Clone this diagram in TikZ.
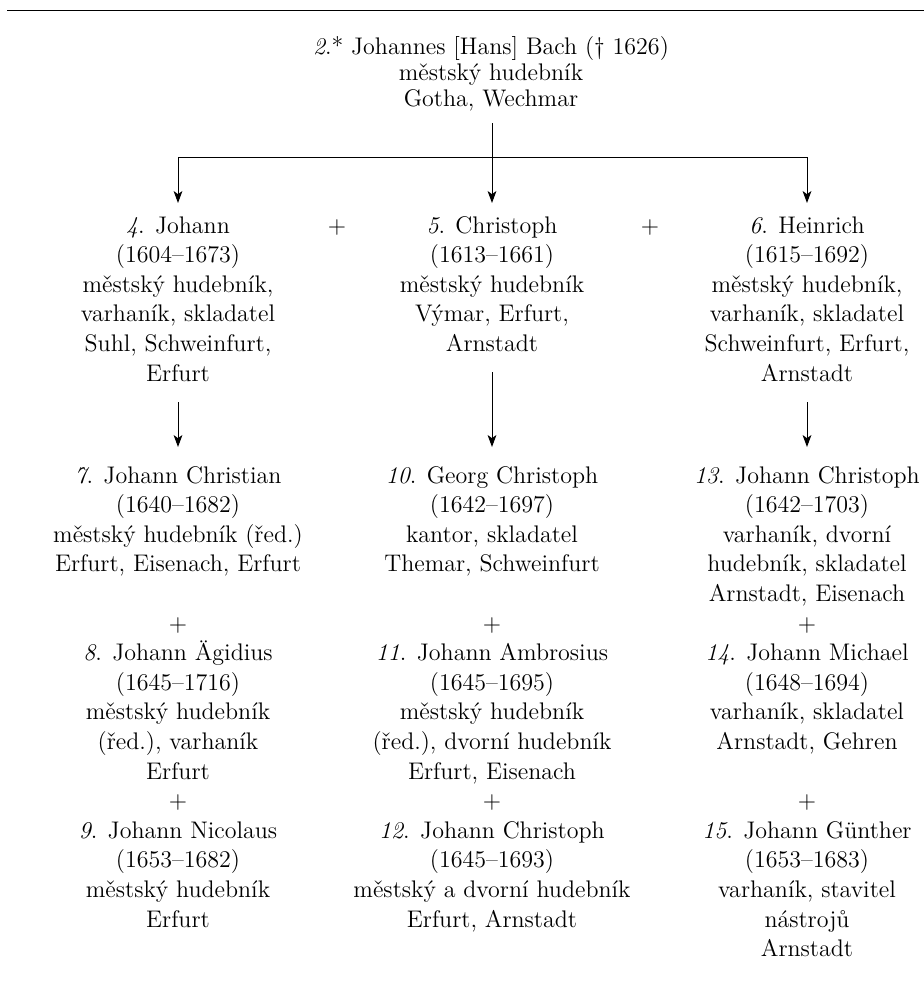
\documentclass[tikz,border=0pt]{standalone}
\usepackage{fontspec}
\usetikzlibrary{arrows.meta}
\newcommand\topstrut{\vrule height 12pt depth 0pt width 0pt}
\newcommand\botstrut{\vrule height 0pt depth 4pt width 0pt}
\tikzset{
  person/.style={anchor=north, yshift=12pt, inner sep=0pt, outer sep=0pt,
    align=center, font=\fontsize{12}{14.8}\selectfont},
  conn/.style={line width=0.5pt},
  arr/.style={conn, -{Stealth[length=6pt,width=4.4pt,inset=1.6pt]}},
  rule/.style={line width=0.6pt},
}
\begin{document}
\begin{tikzpicture}[x=0.5pt,y=-0.5pt]
\useasboundingbox (0,0) rectangle (924,981);
\draw[rule] (7,10.5) -- (924,10.5);

% title
\node[person, font=\fontsize{12}{13}\selectfont] (t) at (491,54)
  {\topstrut\textit{2}.* Johannes [Hans] Bach (†~1626)\\městský hudebník\\Gotha, Wechmar\botstrut};

% row 1
\node[person] (p4) at (178,233)
  {\topstrut\textit{4}. Johann\\(1604–1673)\\městský hudebník,\\varhaník, skladatel\\Suhl, Schweinfurt,\\Erfurt\botstrut};
\node[person] (p5) at (492,233)
  {\topstrut\textit{5}. Christoph\\(1613–1661)\\městský hudebník\\Výmar, Erfurt,\\Arnstadt\botstrut};
\node[person] (p6) at (807,233)
  {\topstrut\textit{6}. Heinrich\\(1615–1692)\\městský hudebník,\\varhaník, skladatel\\Schweinfurt, Erfurt,\\Arnstadt\botstrut};
\node[person] (a45) at (337,233) {\topstrut+};
\node[person] (a56) at (650,233) {\topstrut+};

% row 2, column 1
\node[person] (p7) at (178,483)
  {\topstrut\textit{7}. Johann Christian\\(1640–1682)\\městský hudebník (řed.)\\Erfurt, Eisenach, Erfurt\botstrut};
\node[person] (a78) at (178,631) {\topstrut+};
\node[person] (p8) at (178,660.6)
  {\topstrut\textit{8}. Johann Ägidius\\(1645–1716)\\městský hudebník\\(řed.), varhaník\\Erfurt\botstrut};
\node[person] (a89) at (178,808.6) {\topstrut+};
\node[person] (p9) at (178,838.2)
  {\topstrut\textit{9}. Johann Nicolaus\\(1653–1682)\\městský hudebník\\Erfurt\botstrut};

% row 2, column 2
\node[person] (p10) at (492,483)
  {\topstrut\textit{10}. Georg Christoph\\(1642–1697)\\kantor, skladatel\\Themar, Schweinfurt\botstrut};
\node[person] (a1011) at (492,631) {\topstrut+};
\node[person] (p11) at (492,660.6)
  {\topstrut\textit{11}. Johann Ambrosius\\(1645–1695)\\městský hudebník\\(řed.), dvorní hudebník\\Erfurt, Eisenach\botstrut};
\node[person] (a1112) at (492,808.6) {\topstrut+};
\node[person] (p12) at (492,838.2)
  {\topstrut\textit{12}. Johann Christoph\\(1645–1693)\\městský a dvorní hudebník\\Erfurt, Arnstadt\botstrut};

% row 2, column 3
\node[person] (p13) at (807,483)
  {\topstrut\textit{13}. Johann Christoph\\(1642–1703)\\varhaník, dvorní\\hudebník, skladatel\\Arnstadt, Eisenach\botstrut};
\node[person] (a1314) at (807,631) {\topstrut+};
\node[person] (p14) at (807,660.6)
  {\topstrut\textit{14}. Johann Michael\\(1648–1694)\\varhaník, skladatel\\Arnstadt, Gehren\botstrut};
\node[person] (a1415) at (807,808.6) {\topstrut+};
\node[person] (p15) at (807,838.2)
  {\topstrut\textit{15}. Johann Günther\\(1653–1683)\\varhaník, stavitel\\nástrojů\\Arnstadt\botstrut};

% connectors
\coordinate (jl) at (178,157);
\coordinate (jr) at (807,157);
\draw[conn] (jl) -- (jr);
\draw[arr, shorten >=3pt] (jl) -- (p4.north);
\draw[arr, shorten >=3pt] (jr) -- (p6.north);
\draw[arr, shorten <=4.5pt, shorten >=3pt] (t.south -| p5.north) -- (p5.north);
\draw[arr, shorten <=6.5pt, shorten >=6pt] (p4.south) -- (p7.north);
\draw[arr, shorten <=6.5pt, shorten >=6pt] (p5.south) -- (p10.north);
\draw[arr, shorten <=6.5pt, shorten >=6pt] (p6.south) -- (p13.north);
\end{tikzpicture}
\end{document}
